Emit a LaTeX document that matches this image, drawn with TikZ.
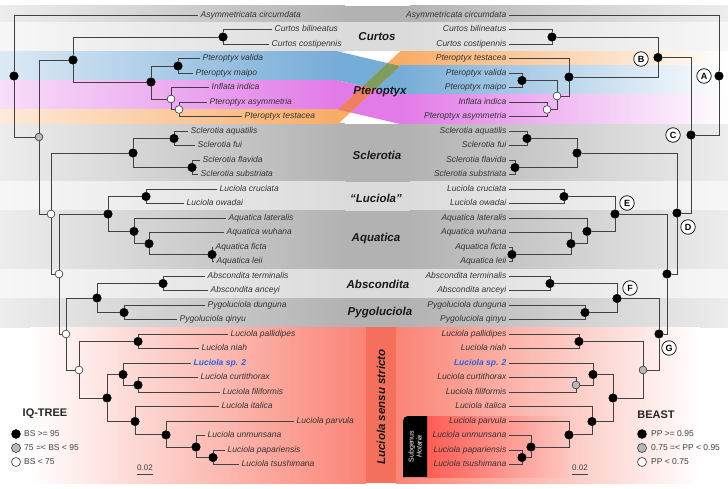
\documentclass[tikz,border=0pt]{standalone}
\usepackage{fontspec}
\setmainfont{Liberation Sans}
\usetikzlibrary{calc}

\definecolor{treeline}{RGB}{65,65,65}
\definecolor{ptblue}{RGB}{118,172,216}
\definecolor{ptpink}{RGB}{226,122,232}
\definecolor{ptorange}{RGB}{248,172,102}
\definecolor{ptgreen}{RGB}{128,156,92}
\definecolor{ptdark}{RGB}{236,128,96}
\definecolor{lssred}{RGB}{250,132,118}
\definecolor{lsscore}{RGB}{245,112,92}
\definecolor{hotred}{RGB}{255,92,84}
\definecolor{spblue}{RGB}{40,100,225}

\begin{document}
\begin{tikzpicture}[
    x=1pt, y=-1pt,
    % Estilos del arbol
    branch/.style={draw=treeline, line width=0.9pt},
    node high/.style={circle, fill=black, draw=black, line width=0.4pt, inner sep=0pt, minimum size=8.6pt}, % soporte alto
    node mid/.style={circle, fill=gray!55, draw=black!80, line width=0.6pt, inner sep=0pt, minimum size=7.8pt}, % soporte medio
    node low/.style={node mid, fill=white}, % soporte bajo
    tip left/.style={anchor=west, inner sep=2.5pt, text height=6pt, text depth=1.8pt, text=black!80, font=\fontsize{8.5}{10}\selectfont\itshape},
    tip right/.style={tip left, anchor=east},
    clade name/.style={font=\fontsize{11.5}{13}\selectfont\bfseries\itshape, text=black!90},
    clade tag/.style={circle, draw=black, fill=white, line width=0.7pt, inner sep=0pt, minimum size=14.5pt, font=\fontsize{9}{10}\selectfont\bfseries},
    key text/.style={anchor=west, inner sep=1pt, text=black!75, font=\fontsize{8.5}{10}\selectfont},
    method/.style={font=\fontsize{11}{13}\selectfont\bfseries, text=black!85}
]
    \useasboundingbox (0,0) rectangle (728,489);

    % =========================================================================
    % 1. Bandas de fondo por genero
    % =========================================================================
    \foreach \ya/\yb/\dk/\ed in {6/22.5/30/7, 22.5/51.5/14/3, 124/182/30/7, 182/211/14/3,
                                 211/269/30/7, 269/298/14/3, 298/327/30/7} {
        \shade[left color=black!\ed, right color=black!\dk] (0,\ya) rectangle (345,\yb);
        \fill[black!\dk] (345,\ya) rectangle (410,\yb);
        \shade[left color=black!\dk, right color=black!\ed] (410,\ya) rectangle (728,\yb);
    }

    % Pteroptyx: bandas que se cruzan entre los dos arboles
    \shade[left color=ptblue!25, right color=ptblue] (0,51.5) rectangle (338,80.5);
    \shade[left color=ptpink!25, right color=ptpink] (0,80.5) rectangle (338,109.5);
    \shade[left color=ptorange!25, right color=ptorange] (0,109.5) rectangle (338,124);
    \shade[left color=ptorange, right color=white] (400,51.5) rectangle (728,66);
    \shade[left color=ptblue, right color=white] (400,66) rectangle (728,95);
    \shade[left color=ptpink, right color=white] (400,95) rectangle (728,124);
    \fill[ptblue] (338,51.5) -- (400,66) -- (400,95) -- (338,80.5) -- cycle;
    \fill[ptpink] (338,80.5) -- (400,95) -- (400,124) -- (338,109.5) -- cycle;
    \fill[ptorange] (338,109.5) -- (400,51.5) -- (400,66) -- (338,124) -- cycle;
    \fill[ptgreen] (362.8,86.3) -- (375.2,89.2) -- (400,66) -- (387.6,63.1) -- cycle;
    \fill[ptdark] (338,109.5) -- (350.4,112.4) -- (375.2,89.2) -- (362.8,86.3) -- cycle;

    % Luciola sensu stricto
    \shade[left color=white, right color=lssred] (30,327) rectangle (366,483);
    \fill[lsscore] (366,327) rectangle (396,483);
    \shade[left color=lssred, right color=white] (396,327) rectangle (700,483);
    \shade[left color=hotred, right color=lssred!45] (427,416) rectangle (570,477);
    \fill[black] (427,477) -- (403,477) -- (403,421) arc (180:270:5) -- (427,416) -- cycle;

    % =========================================================================
    % 2. Nombres de clados
    % =========================================================================
    \node[clade name] (cCurtos) at (377,37) {Curtos};
    \node[clade name] (cPtero) at (380,92) {Pteroptyx};
    \node[clade name] (cSclero) at (377,155) {Sclerotia};
    \node[clade name] (cLuci) at (376,198) {“Luciola”};
    \node[clade name] (cAqua) at (376,239) {Aquatica};
    \node[clade name] (cAbsc) at (378,284) {Abscondita};
    \node[clade name] (cPygo) at (380,313) {Pygoluciola};
    \node[clade name, rotate=90] (cLss) at (381,407) {Luciola sensu stricto};
    \node[rotate=90, align=center, text=white, inner sep=0pt,
          font=\fontsize{7}{8}\selectfont] (cHota) at (415,446.5) {Subgenus\\\textit{Hotaria}};

    % =========================================================================
    % 3. Terminales (izquierda: IQ-TREE, derecha: BEAST)
    % =========================================================================
    \foreach \i/\x/\t in {0/198/Asymmetricata circumdata, 1/272/Curtos bilineatus, 2/269/Curtos costipennis,
        3/200/Pteroptyx valida, 4/193/Pteroptyx maipo, 5/209/Inflata indica,
        6/207/Pteroptyx asymmetria, 7/242/Pteroptyx testacea,
        8/188/Sclerotia aquatilis, 9/195/Sclerotia fui, 10/200/Sclerotia flavida, 11/198/Sclerotia substriata,
        12/217/Luciola cruciata, 13/184/Luciola owadai,
        14/226/Aquatica lateralis, 15/224/Aquatica wuhana, 16/213/Aquatica ficta, 17/214/Aquatica leii,
        18/205/Abscondita terminalis, 19/208/Abscondita anceyi,
        20/205/Pygoluciola dunguna, 21/177/Pygoluciola qinyu,
        22/228/Luciola pallidipes, 23/199/Luciola niah, 24/191/{\textcolor{spblue}{\bfseries Luciola sp. 2}},
        25/198/Luciola curtithorax, 26/220/Luciola filiformis, 27/219/Luciola italica,
        28/294/Luciola parvula, 29/205/Luciola unmunsana, 30/225/Luciola papariensis, 31/239/Luciola tsushimana} {
        \coordinate (lt\i) at (\x,{15.3+14.5*\i});
        \node[tip left] (ll\i) at (lt\i) {\t};
    }
    \foreach \i/\t in {0/Asymmetricata circumdata, 1/Curtos bilineatus, 2/Curtos costipennis,
        3/Pteroptyx testacea, 4/Pteroptyx valida, 5/Pteroptyx maipo, 6/Inflata indica, 7/Pteroptyx asymmetria,
        8/Sclerotia aquatilis, 9/Sclerotia fui, 10/Sclerotia flavida, 11/Sclerotia substriata,
        12/Luciola cruciata, 13/Luciola owadai,
        14/Aquatica lateralis, 15/Aquatica wuhana, 16/Aquatica ficta, 17/Aquatica leii,
        18/Abscondita terminalis, 19/Abscondita anceyi, 20/Pygoluciola dunguna, 21/Pygoluciola qinyu,
        22/Luciola pallidipes, 23/Luciola niah, 24/{\textcolor{spblue}{\bfseries Luciola sp. 2}},
        25/Luciola curtithorax, 26/Luciola filiformis, 27/Luciola italica,
        28/Luciola parvula, 29/Luciola unmunsana, 30/Luciola papariensis, 31/Luciola tsushimana} {
        \coordinate (rt\i) at (509,{15.3+14.5*\i});
        \node[tip right] (rl\i) at (rt\i) {\t};
    }

    % =========================================================================
    % 4. Nodos internos
    % =========================================================================
    % Arbol IQ-TREE
    \foreach \n/\x/\y in {lR/14/76, lCP/73/60, lCU/223/37, lPT/151/82, lVM/178/66,
        lSC/133/153, lS1/174/138.5, lS2/192/167.5, lLA/108/214, lLU/146/196.5,
        lAQ/134/231.4, lAQ2/149/243.7, lAQ3/212/254.5, lAP/97/298, lAB/163/283.5, lPY/124/312.5,
        lLP/138/341.5, lM1/107/398, lM2/123/374.5, lM3/138/385, lM4/135/421.5,
        lM5/166/434.9, lM6/196/447, lM7/213/457.5}
        \node[node high] (\n) at (\x,\y) {};
    \node[node mid] (lN1) at (39,137) {};
    \foreach \n/\x/\y in {lW1/171/99, lW2/179/109.5, lN2/51/214, lN3/59/274, lN4/66/334, lN5/79/370}
        \node[node low] (\n) at (\x,\y) {};

    % Arbol BEAST
    \foreach \n/\x/\y in {rA/719/76, rC/691/135, rB/658/57.5, rCU/552/37, rPT/569/77, rVM/522/80.5,
        rD/677/213, rSC/577/153, rS1/527/138.5, rS2/515/167.5, rDE/667/274, rE/615/214,
        rLU/564/196.5, rAQ/587/231.4, rAQ2/571/243.7, rAQ3/512/254.5, rG/659/334, rF/617/298.5,
        rAB/550/283.5, rPY/585/312.5, rLP/579/341.5, rM1/613/398, rM2/593/374.5,
        rM4/592/421.5, rM5/569/434.9, rM6/531/447, rM7/522/457.5}
        \node[node high] (\n) at (\x,\y) {};
    \node[node mid] (rGR) at (643,370) {};
    \node[node mid] (rM3) at (576,385) {};
    \foreach \n/\x/\y in {rW1/557/96, rW2/547/109.5}
        \node[node low] (\n) at (\x,\y) {};

    % =========================================================================
    % 5. Ramas
    % =========================================================================
    \foreach \p/\c in {lR/lt0, lR/lN1, lN1/lCP, lN1/lN2, lCP/lCU, lCP/lPT, lCU/lt1, lCU/lt2,
        lPT/lVM, lPT/lW1, lVM/lt3, lVM/lt4, lW1/lt5, lW1/lW2, lW2/lt6, lW2/lt7,
        lN2/lSC, lN2/lN3, lSC/lS1, lSC/lS2, lS1/lt8, lS1/lt9, lS2/lt10, lS2/lt11,
        lN3/lLA, lN3/lN4, lLA/lLU, lLA/lAQ, lLU/lt12, lLU/lt13, lAQ/lt14, lAQ/lAQ2,
        lAQ2/lt15, lAQ2/lAQ3, lAQ3/lt16, lAQ3/lt17, lN4/lAP, lN4/lN5, lAP/lAB, lAP/lPY,
        lAB/lt18, lAB/lt19, lPY/lt20, lPY/lt21, lN5/lLP, lN5/lM1, lLP/lt22, lLP/lt23,
        lM1/lM2, lM1/lM4, lM2/lt24, lM2/lM3, lM3/lt25, lM3/lt26, lM4/lt27, lM4/lM5,
        lM5/lt28, lM5/lM6, lM6/lt29, lM6/lM7, lM7/lt30, lM7/lt31}
        \draw[branch] (\p) |- (\c);
    \foreach \p/\c in {rA/rt0, rA/rC, rC/rB, rC/rD, rB/rCU, rB/rPT, rCU/rt1, rCU/rt2,
        rPT/rt3, rPT/rW1, rW1/rVM, rW1/rW2, rVM/rt4, rVM/rt5, rW2/rt6, rW2/rt7,
        rD/rSC, rD/rDE, rSC/rS1, rSC/rS2, rS1/rt8, rS1/rt9, rS2/rt10, rS2/rt11,
        rDE/rE, rDE/rG, rE/rLU, rE/rAQ, rLU/rt12, rLU/rt13, rAQ/rt14, rAQ/rAQ2,
        rAQ2/rt15, rAQ2/rAQ3, rAQ3/rt16, rAQ3/rt17, rG/rF, rG/rGR, rF/rAB, rF/rPY,
        rAB/rt18, rAB/rt19, rPY/rt20, rPY/rt21, rGR/rLP, rGR/rM1, rLP/rt22, rLP/rt23,
        rM1/rM2, rM1/rM4, rM2/rt24, rM2/rM3, rM3/rt25, rM3/rt26, rM4/rt27, rM4/rM5,
        rM5/rt28, rM5/rM6, rM6/rt29, rM6/rM7, rM7/rt30, rM7/rt31}
        \draw[branch] (\p) |- (\c);

    % Etiquetas de clados principales
    \foreach \n/\x/\y in {A/704/76, B/641/59, C/673/135, D/688/227, E/627/203, F/630/288, G/669/348}
        \node[clade tag] (tag\n) at (\x,\y) {\n};

    % =========================================================================
    % 6. Leyendas y escalas
    % =========================================================================
    \node[method] (mIQ) at (45,414) {IQ-TREE};
    \node[node high, minimum size=9pt] (lk1) at (16,434) {};
    \node[node mid, minimum size=9pt] (lk2) at (16,448) {};
    \node[node low, minimum size=9pt] (lk3) at (16,462) {};
    \node[key text] (lkt1) at (23,434) {BS >= 95};
    \node[key text] (lkt2) at (23,448) {75 =< BS < 95};
    \node[key text] (lkt3) at (23,462) {BS < 75};

    \node[method] (mBE) at (656,415) {BEAST};
    \node[node high, minimum size=9pt] (rk1) at (642,434) {};
    \node[node mid, minimum size=9pt] (rk2) at (642,448) {};
    \node[node low, minimum size=9pt] (rk3) at (642,462) {};
    \node[key text] (rkt1) at (650,434) {PP >= 0.95};
    \node[key text] (rkt2) at (650,448) {0.75 =< PP < 0.95};
    \node[key text] (rkt3) at (650,462) {PP < 0.75};

    \coordinate (lbar1) at (137,474); \coordinate (lbar2) at (153,474);
    \draw[branch] (lbar1) -- (lbar2);
    \node[key text, anchor=south, font=\fontsize{8}{9}\selectfont] (lbarlab) at (145,472) {0.02};
    \coordinate (rbar1) at (572,474); \coordinate (rbar2) at (588,474);
    \draw[branch] (rbar1) -- (rbar2);
    \node[key text, anchor=south, font=\fontsize{8}{9}\selectfont] (rbarlab) at (580,472) {0.02};

\end{tikzpicture}
\end{document}
